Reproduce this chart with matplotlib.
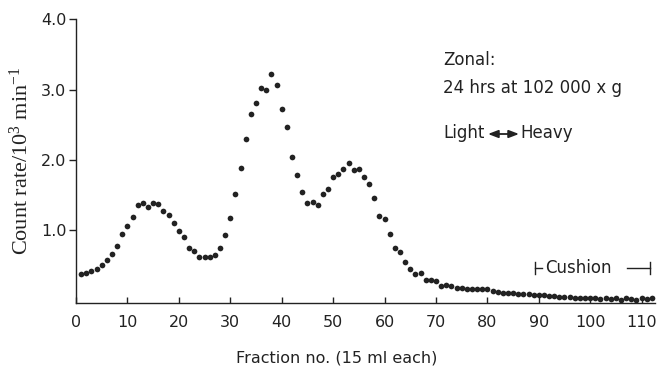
import matplotlib
matplotlib.use("Agg")
import matplotlib.pyplot as plt

plt.rcParams["mathtext.fontset"] = "custom"
plt.rcParams["mathtext.rm"] = "Liberation Serif"
plt.rcParams["mathtext.it"] = "Liberation Serif:italic"
plt.rcParams["mathtext.default"] = "rm"

fractions = list(range(1, 113))
count_rate = [
    0.38, 0.39, 0.42, 0.45, 0.50, 0.57, 0.66, 0.77, 0.94, 1.06,
    1.19, 1.35, 1.38, 1.33, 1.39, 1.37, 1.27, 1.22, 1.10, 0.98,
    0.90, 0.75, 0.70, 0.62, 0.62, 0.62, 0.65, 0.74, 0.93, 1.17,
    1.51, 1.89, 2.30, 2.65, 2.81, 3.02, 2.99, 3.22, 3.06, 2.72,
    2.47, 2.04, 1.78, 1.54, 1.38, 1.40, 1.35, 1.51, 1.58, 1.76,
    1.80, 1.87, 1.95, 1.86, 1.87, 1.75, 1.65, 1.46, 1.20, 1.16,
    0.94, 0.74, 0.69, 0.54, 0.45, 0.38, 0.39, 0.29, 0.29, 0.27,
    0.20, 0.22, 0.20, 0.18, 0.17, 0.16, 0.16, 0.16, 0.16, 0.16,
    0.13, 0.12, 0.11, 0.11, 0.10, 0.09, 0.09, 0.09, 0.08, 0.08,
    0.07, 0.06, 0.06, 0.05, 0.05, 0.05, 0.04, 0.04, 0.04, 0.03,
    0.03, 0.02, 0.03, 0.02, 0.03, 0.01, 0.03, 0.02, 0.01, 0.03,
    0.02, 0.03,
]
x_ticks = [0, 10, 20, 30, 40, 50, 60, 70, 80, 90, 100, 110]
y_ticks = [1.0, 2.0, 3.0, 4.0]
y_tick_labels = ["1.0", "2.0", "3.0", "4.0"]
cushion_range = (89.3, 111.7)

ink = "#222222"
sans = "DejaVu Sans"

fig = plt.figure(figsize=(6.57, 3.77), dpi=100)
ax = fig.add_axes([76 / 657, 74.3 / 377, 579 / 657, 283.4 / 377])

ax.plot(fractions, count_rate, "o", color=ink, markersize=4.1, markeredgewidth=0)

ax.set_xlim(0, 112.6)
ax.set_ylim(-0.034, 4.0)
ax.spines["top"].set_visible(False)
ax.spines["right"].set_visible(False)
for s in ("left", "bottom"):
    ax.spines[s].set_color(ink)
    ax.spines[s].set_linewidth(1.0)

ax.set_xticks(x_ticks)
ax.set_xticklabels([str(t) for t in x_ticks])
ax.set_yticks(y_ticks)
ax.set_yticklabels(y_tick_labels)
ax.tick_params(axis="x", direction="in", length=4, width=1, color=ink,
               labelcolor=ink, labelsize=11.5, pad=9)
ax.tick_params(axis="y", direction="out", length=5, width=1, color=ink,
               labelcolor=ink, labelsize=11.5, pad=2)
for lab in ax.get_xticklabels() + ax.get_yticklabels():
    lab.set_family(sans)

ax.set_ylabel("Count rate/10$^{3}$ min$^{-1}$", family="Liberation Serif",
              fontsize=16, color=ink, labelpad=6)
fig.text(337 / 657, 1 - 358 / 377, "Fraction no. (15 ml each)", ha="center",
         va="center", family=sans, fontsize=11.5, color=ink)

tx = 443 / 657
fs = 12
fig.text(tx, 1 - 60 / 377, "Zonal:", ha="left", va="center", family=sans,
         fontsize=fs, color=ink)
fig.text(tx, 1 - 88 / 377, "24 hrs at 102 000 x g", ha="left", va="center",
         family=sans, fontsize=fs, color=ink)
fig.text(tx, 1 - 133 / 377, "Light", ha="left", va="center",
         family=sans, fontsize=fs, color=ink)
fig.text(520 / 657, 1 - 133 / 377, "Heavy", ha="left", va="center",
         family=sans, fontsize=fs, color=ink)
fig.add_artist(plt.matplotlib.patches.FancyArrowPatch(
    (488 / 657, 1 - 134 / 377), (519 / 657, 1 - 134 / 377),
    transform=fig.transFigure, arrowstyle="<|-|>,head_length=6,head_width=2.3",
    color=ink, lw=1.3, mutation_scale=1, shrinkA=0, shrinkB=0))

# Cushion bracket
cy = 0.46
ax.plot([cushion_range[0]] * 2, [cy - 0.09, cy + 0.09], color=ink, lw=1)
ax.plot([cushion_range[0], cushion_range[0] + 1.3], [cy, cy], color=ink, lw=1)
ax.plot([cushion_range[1] - 4.5, cushion_range[1]], [cy, cy], color=ink, lw=1)
ax.plot([cushion_range[1]] * 2, [cy - 0.09, cy + 0.09], color=ink, lw=1)
ax.text(cushion_range[0] + 1.9, cy, "Cushion", ha="left", va="center",
        family=sans, fontsize=fs, color=ink)

fig.savefig("out.png", dpi=100)
